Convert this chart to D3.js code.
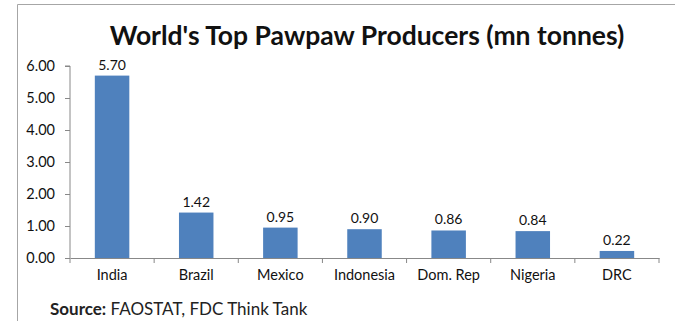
<!DOCTYPE html>
<html>
<head>
<meta charset="utf-8">
<script src="https://cdn.jsdelivr.net/npm/d3@7"></script>
<style>
  body { margin: 0; background: #fff; }
  svg { display: block; font-family: Lato, "Open Sans", sans-serif; }
</style>
</head>
<body>
<svg width="675" height="321"></svg>
<script>
const countries = ["India", "Brazil", "Mexico", "Indonesia", "Dom. Rep", "Nigeria", "DRC"];
const production = [5.70, 1.42, 0.95, 0.90, 0.86, 0.84, 0.22];
const yTicks = [0, 1, 2, 3, 4, 5, 6];

const svg = d3.select("svg"),
  width = +svg.attr("width"),
  height = +svg.attr("height");

// Cadre du graphique
svg.append("path")
  .attr("d", `M17.5,${height} V4.5 H${width}`)
  .attr("fill", "none")
  .attr("stroke", "#a6a6a6")
  .attr("stroke-width", 1);

const margin = { top: 66, right: 16, bottom: 63, left: 70 };

const x = d3.scaleBand()
  .domain(countries)
  .range([margin.left, width - margin.right])
  .padding(0);

const y = d3.scaleLinear()
  .domain([0, 6])
  .range([height - margin.bottom, margin.top]);

// Titre
svg.append("text")
  .attr("x", 367)
  .attr("y", 45)
  .attr("text-anchor", "middle")
  .style("font-size", "26.5px")
  .style("font-weight", "bold")
  .attr("fill", "#111")
  .text("World's Top Pawpaw Producers (mn tonnes)");

// Axe Y
const yAxis = svg.append("g")
  .attr("transform", `translate(${margin.left},0)`)
  .call(d3.axisLeft(y).tickValues(yTicks).tickFormat(d3.format(".2f")).tickSize(5).tickPadding(10));
yAxis.select(".domain").attr("stroke", "#888").attr("d", `M-5,${y(6)}H0V${y(0)}`);
yAxis.selectAll(".tick line").attr("stroke", "#888");
yAxis.selectAll(".tick text")
  .style("font-size", "14.5px")
  .style("font-family", "Lato, sans-serif")
  .attr("fill", "#111");

// Axe X
const xAxis = svg.append("g")
  .attr("transform", `translate(0,${y(0)})`)
  .call(d3.axisBottom(x).tickSize(0).tickPadding(12));
xAxis.select(".domain").attr("stroke", "#888");
xAxis.selectAll(".tick text")
  .style("font-size", "14.5px")
  .style("font-family", "Lato, sans-serif")
  .attr("fill", "#111");

// Graduations entre catégories
svg.append("g")
  .selectAll("line")
  .data(countries.concat(["end"]))
  .join("line")
  .attr("x1", (d, i) => margin.left + i * x.step())
  .attr("x2", (d, i) => margin.left + i * x.step())
  .attr("y1", y(0))
  .attr("y2", y(0) + 5)
  .attr("stroke", "#888");

// Barres
const barW = x.bandwidth() * 0.41;
const rows = countries.map((c, i) => ({ country: c, value: production[i] }));

svg.append("g")
  .selectAll("rect")
  .data(rows)
  .join("rect")
  .attr("x", d => x(d.country) + (x.bandwidth() - barW) / 2)
  .attr("y", d => y(d.value))
  .attr("width", barW)
  .attr("height", d => y(0) - y(d.value))
  .attr("fill", "#4f81bd");

// Étiquettes de valeurs
svg.append("g")
  .selectAll("text")
  .data(rows)
  .join("text")
  .attr("x", d => x(d.country) + x.bandwidth() / 2)
  .attr("y", d => y(d.value) - 6)
  .attr("text-anchor", "middle")
  .style("font-size", "14px")
  .attr("fill", "#111")
  .text(d => d3.format(".2f")(d.value));

// Source
const src = svg.append("text")
  .attr("x", 50)
  .attr("y", 315)
  .style("font-size", "17px")
  .attr("fill", "#222");
src.append("tspan").style("font-weight", "bold").text("Source:");
src.append("tspan").text(" FAOSTAT, FDC Think Tank");
</script>
</body>
</html>
